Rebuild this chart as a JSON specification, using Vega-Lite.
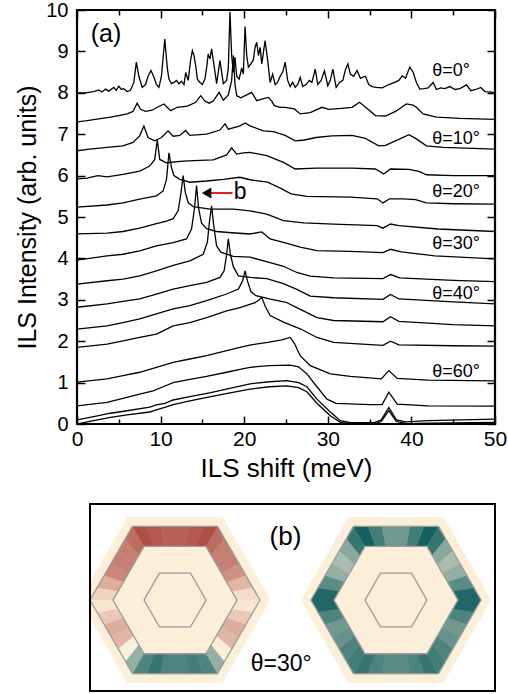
{
"$schema": "https://vega.github.io/schema/vega-lite/v6.json",
"padding": {"left": 14, "top": -2, "right": 5, "bottom": 2},
"spacing": 20,
"config": {"font": "Liberation Sans", "view": {"stroke": null},
  "axis": {"grid": false, "domain": false, "labelColor": "black", "tickColor": "black", "titleColor": "black", "labelFont": "Liberation Sans", "titleFont": "Liberation Sans", "titleFontWeight": "normal", "tickWidth": 1.5}},
"datasets": {
"curves": [
{"c":1,"x":0,"y":8.0},{"c":1,"x":1,"y":8.0},{"c":1,"x":2,"y":8.03},{"c":1,"x":2.6,"y":8.07},{"c":1,"x":3,"y":8.02},{"c":1,"x":3.4,"y":8.09},{"c":1,"x":3.8,"y":8.04},{"c":1,"x":4.4,"y":8.13},{"c":1,"x":4.7,"y":8.06},{"c":1,"x":5.0,"y":8.16},{"c":1,"x":5.3,"y":8.08},{"c":1,"x":5.6,"y":8.1},{"c":1,"x":6.0,"y":8.03},{"c":1,"x":6.4,"y":8.06},{"c":1,"x":6.8,"y":8.25},{"c":1,"x":7.1,"y":8.74},{"c":1,"x":7.4,"y":8.4},{"c":1,"x":7.8,"y":8.13},{"c":1,"x":8.2,"y":8.2},{"c":1,"x":8.5,"y":8.4},{"c":1,"x":8.85,"y":8.54},{"c":1,"x":9.2,"y":8.38},{"c":1,"x":9.5,"y":8.2},{"c":1,"x":9.8,"y":8.13},{"c":1,"x":10.1,"y":8.4},{"c":1,"x":10.5,"y":9.3},{"c":1,"x":10.8,"y":8.6},{"c":1,"x":11.0,"y":8.33},{"c":1,"x":11.3,"y":8.22},{"c":1,"x":11.6,"y":8.25},{"c":1,"x":11.9,"y":8.3},{"c":1,"x":12.2,"y":8.22},{"c":1,"x":12.5,"y":8.28},{"c":1,"x":12.8,"y":8.2},{"c":1,"x":13.0,"y":8.49},{"c":1,"x":13.3,"y":8.3},{"c":1,"x":13.6,"y":8.8},{"c":1,"x":13.8,"y":9.02},{"c":1,"x":14.0,"y":8.9},{"c":1,"x":14.2,"y":8.65},{"c":1,"x":14.4,"y":8.33},{"c":1,"x":14.7,"y":8.25},{"c":1,"x":15.0,"y":8.2},{"c":1,"x":15.3,"y":8.33},{"c":1,"x":15.5,"y":8.6},{"c":1,"x":15.7,"y":8.94},{"c":1,"x":15.9,"y":8.82},{"c":1,"x":16.1,"y":9.06},{"c":1,"x":16.4,"y":8.65},{"c":1,"x":16.7,"y":8.22},{"c":1,"x":16.9,"y":8.5},{"c":1,"x":17.1,"y":8.78},{"c":1,"x":17.3,"y":8.5},{"c":1,"x":17.5,"y":8.22},{"c":1,"x":17.9,"y":8.3},{"c":1,"x":18.1,"y":8.6},{"c":1,"x":18.3,"y":9.95},{"c":1,"x":18.5,"y":8.9},{"c":1,"x":18.7,"y":8.5},{"c":1,"x":18.9,"y":8.86},{"c":1,"x":19.1,"y":8.4},{"c":1,"x":19.4,"y":8.33},{"c":1,"x":19.7,"y":8.6},{"c":1,"x":19.9,"y":8.45},{"c":1,"x":20.1,"y":9.6},{"c":1,"x":20.3,"y":8.9},{"c":1,"x":20.5,"y":8.62},{"c":1,"x":20.8,"y":8.7},{"c":1,"x":21.1,"y":8.8},{"c":1,"x":21.3,"y":9.1},{"c":1,"x":21.5,"y":9.22},{"c":1,"x":21.7,"y":8.9},{"c":1,"x":21.9,"y":9.1},{"c":1,"x":22.1,"y":8.7},{"c":1,"x":22.5,"y":9.26},{"c":1,"x":22.8,"y":8.8},{"c":1,"x":23.1,"y":8.25},{"c":1,"x":23.4,"y":8.45},{"c":1,"x":23.7,"y":8.2},{"c":1,"x":24.0,"y":8.25},{"c":1,"x":24.3,"y":8.4},{"c":1,"x":24.6,"y":8.5},{"c":1,"x":24.9,"y":8.74},{"c":1,"x":25.2,"y":8.3},{"c":1,"x":25.5,"y":8.15},{"c":1,"x":25.8,"y":8.25},{"c":1,"x":26.1,"y":8.13},{"c":1,"x":26.4,"y":8.2},{"c":1,"x":26.7,"y":8.37},{"c":1,"x":27.0,"y":8.15},{"c":1,"x":27.4,"y":8.2},{"c":1,"x":27.8,"y":8.3},{"c":1,"x":28.1,"y":8.25},{"c":1,"x":28.5,"y":8.57},{"c":1,"x":28.8,"y":8.2},{"c":1,"x":29.2,"y":8.3},{"c":1,"x":29.6,"y":8.53},{"c":1,"x":30.0,"y":8.17},{"c":1,"x":30.3,"y":8.3},{"c":1,"x":30.6,"y":8.57},{"c":1,"x":31.0,"y":8.13},{"c":1,"x":31.4,"y":8.25},{"c":1,"x":31.8,"y":8.3},{"c":1,"x":32.1,"y":8.55},{"c":1,"x":32.4,"y":8.7},{"c":1,"x":32.7,"y":8.45},{"c":1,"x":33.1,"y":8.4},{"c":1,"x":33.5,"y":8.54},{"c":1,"x":33.9,"y":8.35},{"c":1,"x":34.2,"y":8.38},{"c":1,"x":34.5,"y":8.4},{"c":1,"x":34.9,"y":8.2},{"c":1,"x":35.3,"y":8.15},{"c":1,"x":35.8,"y":8.13},{"c":1,"x":36.5,"y":8.12},{"c":1,"x":37.3,"y":8.2},{"c":1,"x":38.0,"y":8.25},{"c":1,"x":38.5,"y":8.3},{"c":1,"x":38.9,"y":8.41},{"c":1,"x":39.3,"y":8.35},{"c":1,"x":39.8,"y":8.62},{"c":1,"x":40.2,"y":8.5},{"c":1,"x":40.6,"y":8.25},{"c":1,"x":41.0,"y":8.09},{"c":1,"x":41.5,"y":8.1},{"c":1,"x":42.0,"y":8.12},{"c":1,"x":42.6,"y":8.25},{"c":1,"x":43.0,"y":8.08},{"c":1,"x":43.5,"y":8.12},{"c":1,"x":44.0,"y":8.1},{"c":1,"x":44.6,"y":8.15},{"c":1,"x":45.2,"y":8.08},{"c":1,"x":45.8,"y":8.1},{"c":1,"x":46.6,"y":8.19},{"c":1,"x":47.1,"y":8.05},{"c":1,"x":47.7,"y":8.08},{"c":1,"x":48.3,"y":8.13},{"c":1,"x":48.8,"y":8.03},{"c":1,"x":49.4,"y":8.02},{"c":1,"x":50,"y":8.0},
{"c":2,"x":0,"y":7.3},{"c":2,"x":1,"y":7.32},{"c":2,"x":2,"y":7.35},{"c":2,"x":3,"y":7.38},{"c":2,"x":4,"y":7.41},{"c":2,"x":5,"y":7.45},{"c":2,"x":6,"y":7.49},{"c":2,"x":6.7,"y":7.55},{"c":2,"x":7.2,"y":7.75},{"c":2,"x":7.6,"y":7.6},{"c":2,"x":8.2,"y":7.55},{"c":2,"x":9.0,"y":7.58},{"c":2,"x":9.6,"y":7.65},{"c":2,"x":10.4,"y":7.73},{"c":2,"x":11.2,"y":7.57},{"c":2,"x":12,"y":7.65},{"c":2,"x":13.2,"y":7.68},{"c":2,"x":14.2,"y":7.77},{"c":2,"x":14.8,"y":7.93},{"c":2,"x":15.3,"y":7.8},{"c":2,"x":15.8,"y":7.75},{"c":2,"x":16.3,"y":7.8},{"c":2,"x":17.0,"y":8.01},{"c":2,"x":17.5,"y":7.82},{"c":2,"x":18.1,"y":7.95},{"c":2,"x":18.5,"y":8.3},{"c":2,"x":18.7,"y":8.9},{"c":2,"x":18.9,"y":8.2},{"c":2,"x":19.1,"y":7.93},{"c":2,"x":19.6,"y":7.88},{"c":2,"x":20.3,"y":7.95},{"c":2,"x":20.9,"y":8.01},{"c":2,"x":21.5,"y":7.81},{"c":2,"x":22.1,"y":7.85},{"c":2,"x":22.9,"y":7.89},{"c":2,"x":23.3,"y":7.8},{"c":2,"x":23.6,"y":7.69},{"c":2,"x":24.3,"y":7.65},{"c":2,"x":24.9,"y":7.65},{"c":2,"x":26.0,"y":7.61},{"c":2,"x":26.7,"y":7.49},{"c":2,"x":27.9,"y":7.52},{"c":2,"x":29.3,"y":7.65},{"c":2,"x":30.1,"y":7.6},{"c":2,"x":31.3,"y":7.62},{"c":2,"x":32.9,"y":7.65},{"c":2,"x":33.8,"y":7.77},{"c":2,"x":34.7,"y":7.62},{"c":2,"x":35.7,"y":7.45},{"c":2,"x":36.9,"y":7.44},{"c":2,"x":38.1,"y":7.55},{"c":2,"x":39.4,"y":7.73},{"c":2,"x":40.2,"y":7.7},{"c":2,"x":40.6,"y":7.65},{"c":2,"x":41.4,"y":7.49},{"c":2,"x":43,"y":7.41},{"c":2,"x":45.8,"y":7.38},{"c":2,"x":50,"y":7.36},
{"c":3,"x":0,"y":6.6},{"c":3,"x":1.5,"y":6.64},{"c":3,"x":3.6,"y":6.68},{"c":3,"x":5.5,"y":6.72},{"c":3,"x":6.7,"y":6.8},{"c":3,"x":7.5,"y":6.96},{"c":3,"x":8.0,"y":7.2},{"c":3,"x":8.5,"y":6.92},{"c":3,"x":9.3,"y":6.84},{"c":3,"x":10.1,"y":6.92},{"c":3,"x":10.9,"y":7.08},{"c":3,"x":11.5,"y":6.95},{"c":3,"x":12.3,"y":6.97},{"c":3,"x":13.0,"y":7.09},{"c":3,"x":13.5,"y":6.97},{"c":3,"x":15.5,"y":7.0},{"c":3,"x":17.1,"y":7.1},{"c":3,"x":17.7,"y":7.25},{"c":3,"x":18.1,"y":7.12},{"c":3,"x":19.5,"y":7.2},{"c":3,"x":20.1,"y":7.27},{"c":3,"x":20.7,"y":7.2},{"c":3,"x":22.3,"y":7.08},{"c":3,"x":23.5,"y":7.06},{"c":3,"x":24.9,"y":6.97},{"c":3,"x":26.1,"y":6.84},{"c":3,"x":27.2,"y":6.86},{"c":3,"x":28.6,"y":6.92},{"c":3,"x":30.5,"y":6.96},{"c":3,"x":32.9,"y":6.97},{"c":3,"x":34.5,"y":6.9},{"c":3,"x":36.1,"y":6.72},{"c":3,"x":36.9,"y":6.73},{"c":3,"x":38.1,"y":6.84},{"c":3,"x":39.7,"y":6.99},{"c":3,"x":40.5,"y":6.9},{"c":3,"x":41.8,"y":6.72},{"c":3,"x":43.8,"y":6.68},{"c":3,"x":50,"y":6.64},
{"c":4,"x":0,"y":5.92},{"c":4,"x":1.2,"y":5.94},{"c":4,"x":2.5,"y":6.0},{"c":4,"x":3.6,"y":5.97},{"c":4,"x":5.5,"y":6.03},{"c":4,"x":7.5,"y":6.11},{"c":4,"x":8.7,"y":6.23},{"c":4,"x":9.3,"y":6.39},{"c":4,"x":9.6,"y":6.86},{"c":4,"x":9.9,"y":6.39},{"c":4,"x":10.7,"y":6.31},{"c":4,"x":12.7,"y":6.35},{"c":4,"x":14.7,"y":6.37},{"c":4,"x":16.3,"y":6.38},{"c":4,"x":17.9,"y":6.5},{"c":4,"x":18.5,"y":6.67},{"c":4,"x":19.1,"y":6.52},{"c":4,"x":19.9,"y":6.55},{"c":4,"x":20.7,"y":6.56},{"c":4,"x":22.7,"y":6.48},{"c":4,"x":24.7,"y":6.32},{"c":4,"x":26.1,"y":6.16},{"c":4,"x":28.6,"y":6.18},{"c":4,"x":32.9,"y":6.18},{"c":4,"x":35.7,"y":6.16},{"c":4,"x":36.7,"y":6.04},{"c":4,"x":37.5,"y":6.16},{"c":4,"x":39.7,"y":6.15},{"c":4,"x":40.9,"y":6.1},{"c":4,"x":41.8,"y":6.02},{"c":4,"x":45,"y":6.0},{"c":4,"x":50,"y":6.0},
{"c":5,"x":0,"y":5.24},{"c":5,"x":3.6,"y":5.29},{"c":5,"x":5.5,"y":5.34},{"c":5,"x":7.5,"y":5.43},{"c":5,"x":9.5,"y":5.51},{"c":5,"x":10.3,"y":5.63},{"c":5,"x":10.7,"y":5.9},{"c":5,"x":11.0,"y":6.55},{"c":5,"x":11.3,"y":6.2},{"c":5,"x":11.6,"y":6.0},{"c":5,"x":12.3,"y":5.91},{"c":5,"x":13.5,"y":5.84},{"c":5,"x":15.5,"y":5.87},{"c":5,"x":17.5,"y":5.91},{"c":5,"x":19.5,"y":5.96},{"c":5,"x":20.7,"y":5.9},{"c":5,"x":22.8,"y":5.84},{"c":5,"x":24.5,"y":5.68},{"c":5,"x":25.6,"y":5.56},{"c":5,"x":27.5,"y":5.5},{"c":5,"x":32.7,"y":5.48},{"c":5,"x":35.9,"y":5.44},{"c":5,"x":36.6,"y":5.34},{"c":5,"x":37.4,"y":5.44},{"c":5,"x":39,"y":5.44},{"c":5,"x":40.5,"y":5.42},{"c":5,"x":41.8,"y":5.34},{"c":5,"x":45,"y":5.32},{"c":5,"x":50,"y":5.31},
{"c":6,"x":0,"y":4.59},{"c":6,"x":3.6,"y":4.61},{"c":6,"x":5.5,"y":4.65},{"c":6,"x":7.5,"y":4.73},{"c":6,"x":9.5,"y":4.84},{"c":6,"x":10.7,"y":4.9},{"c":6,"x":11.5,"y":4.96},{"c":6,"x":12.1,"y":5.15},{"c":6,"x":12.45,"y":5.6},{"c":6,"x":12.7,"y":6.0},{"c":6,"x":12.95,"y":5.6},{"c":6,"x":13.3,"y":5.35},{"c":6,"x":13.9,"y":5.25},{"c":6,"x":15.9,"y":5.19},{"c":6,"x":18.7,"y":5.19},{"c":6,"x":20.7,"y":5.15},{"c":6,"x":22.7,"y":5.07},{"c":6,"x":24.7,"y":4.91},{"c":6,"x":27.1,"y":4.86},{"c":6,"x":30.7,"y":4.83},{"c":6,"x":35.9,"y":4.79},{"c":6,"x":36.6,"y":4.73},{"c":6,"x":37.5,"y":4.83},{"c":6,"x":38.5,"y":4.79},{"c":6,"x":43.2,"y":4.71},{"c":6,"x":50,"y":4.65},
{"c":7,"x":0,"y":3.96},{"c":7,"x":3.6,"y":4.06},{"c":7,"x":5.5,"y":4.1},{"c":7,"x":7.5,"y":4.18},{"c":7,"x":9.5,"y":4.3},{"c":7,"x":11.5,"y":4.38},{"c":7,"x":13.1,"y":4.47},{"c":7,"x":13.7,"y":4.71},{"c":7,"x":14.05,"y":5.2},{"c":7,"x":14.3,"y":5.76},{"c":7,"x":14.55,"y":5.2},{"c":7,"x":14.9,"y":4.85},{"c":7,"x":15.5,"y":4.72},{"c":7,"x":16.7,"y":4.65},{"c":7,"x":18.5,"y":4.62},{"c":7,"x":20.7,"y":4.59},{"c":7,"x":22.1,"y":4.64},{"c":7,"x":23.1,"y":4.47},{"c":7,"x":24.7,"y":4.39},{"c":7,"x":26.7,"y":4.27},{"c":7,"x":28.7,"y":4.19},{"c":7,"x":32.7,"y":4.17},{"c":7,"x":36.6,"y":4.14},{"c":7,"x":37.5,"y":4.22},{"c":7,"x":38.8,"y":4.16},{"c":7,"x":42.8,"y":4.06},{"c":7,"x":50,"y":3.99},
{"c":8,"x":0,"y":3.38},{"c":8,"x":3.6,"y":3.46},{"c":8,"x":5.5,"y":3.5},{"c":8,"x":7.5,"y":3.58},{"c":8,"x":9.5,"y":3.7},{"c":8,"x":11.5,"y":3.83},{"c":8,"x":13.5,"y":3.94},{"c":8,"x":15.1,"y":4.1},{"c":8,"x":15.6,"y":4.4},{"c":8,"x":15.85,"y":4.9},{"c":8,"x":16.1,"y":5.27},{"c":8,"x":16.35,"y":4.8},{"c":8,"x":16.7,"y":4.3},{"c":8,"x":17.2,"y":4.15},{"c":8,"x":18.7,"y":4.05},{"c":8,"x":20.7,"y":4.03},{"c":8,"x":23.1,"y":3.9},{"c":8,"x":24.7,"y":3.81},{"c":8,"x":26.3,"y":3.66},{"c":8,"x":27.9,"y":3.57},{"c":8,"x":30.7,"y":3.53},{"c":8,"x":36.6,"y":3.51},{"c":8,"x":37.5,"y":3.61},{"c":8,"x":38.6,"y":3.53},{"c":8,"x":45,"y":3.47},{"c":8,"x":50,"y":3.44},
{"c":9,"x":0,"y":2.82},{"c":9,"x":3.6,"y":2.9},{"c":9,"x":5.5,"y":2.96},{"c":9,"x":7.5,"y":3.02},{"c":9,"x":9.5,"y":3.14},{"c":9,"x":11.5,"y":3.26},{"c":9,"x":13.5,"y":3.34},{"c":9,"x":15.5,"y":3.42},{"c":9,"x":17.1,"y":3.54},{"c":9,"x":17.6,"y":3.7},{"c":9,"x":17.9,"y":4.1},{"c":9,"x":18.1,"y":4.47},{"c":9,"x":18.35,"y":4.1},{"c":9,"x":18.7,"y":3.8},{"c":9,"x":19.3,"y":3.58},{"c":9,"x":20.7,"y":3.54},{"c":9,"x":22.7,"y":3.51},{"c":9,"x":24.7,"y":3.39},{"c":9,"x":26.3,"y":3.25},{"c":9,"x":27.9,"y":3.09},{"c":9,"x":30.7,"y":3.05},{"c":9,"x":36.6,"y":3.01},{"c":9,"x":37.5,"y":3.13},{"c":9,"x":38.5,"y":3.02},{"c":9,"x":45,"y":2.95},{"c":9,"x":50,"y":2.9},
{"c":10,"x":0,"y":2.29},{"c":10,"x":3.6,"y":2.37},{"c":10,"x":5.5,"y":2.45},{"c":10,"x":7.5,"y":2.54},{"c":10,"x":9.5,"y":2.66},{"c":10,"x":11.5,"y":2.78},{"c":10,"x":13.5,"y":2.86},{"c":10,"x":15.5,"y":2.98},{"c":10,"x":17.9,"y":3.14},{"c":10,"x":19.3,"y":3.26},{"c":10,"x":19.8,"y":3.45},{"c":10,"x":20.1,"y":3.7},{"c":10,"x":20.4,"y":3.45},{"c":10,"x":20.8,"y":3.2},{"c":10,"x":21.4,"y":3.1},{"c":10,"x":23,"y":3.02},{"c":10,"x":25,"y":2.94},{"c":10,"x":26.6,"y":2.78},{"c":10,"x":28.7,"y":2.57},{"c":10,"x":30.7,"y":2.5},{"c":10,"x":36.6,"y":2.47},{"c":10,"x":37.5,"y":2.59},{"c":10,"x":38.5,"y":2.48},{"c":10,"x":45,"y":2.4},{"c":10,"x":50,"y":2.37},
{"c":11,"x":0,"y":1.85},{"c":11,"x":3.6,"y":1.93},{"c":11,"x":5.5,"y":2.01},{"c":11,"x":7.5,"y":2.09},{"c":11,"x":9.5,"y":2.17},{"c":11,"x":10.3,"y":2.25},{"c":11,"x":11.5,"y":2.37},{"c":11,"x":13.5,"y":2.45},{"c":11,"x":15.5,"y":2.57},{"c":11,"x":17.9,"y":2.73},{"c":11,"x":19.5,"y":2.81},{"c":11,"x":21.3,"y":2.93},{"c":11,"x":21.8,"y":3.0},{"c":11,"x":22.1,"y":3.06},{"c":11,"x":22.5,"y":2.85},{"c":11,"x":23.1,"y":2.62},{"c":11,"x":24.7,"y":2.46},{"c":11,"x":26.7,"y":2.3},{"c":11,"x":28.7,"y":2.09},{"c":11,"x":30.7,"y":1.97},{"c":11,"x":36.6,"y":1.9},{"c":11,"x":37.5,"y":2.0},{"c":11,"x":38.5,"y":1.91},{"c":11,"x":45,"y":1.89},{"c":11,"x":50,"y":1.88},
{"c":12,"x":0,"y":1.01},{"c":12,"x":3.6,"y":1.09},{"c":12,"x":5.5,"y":1.17},{"c":12,"x":7.5,"y":1.25},{"c":12,"x":9.5,"y":1.37},{"c":12,"x":11.5,"y":1.49},{"c":12,"x":13.5,"y":1.57},{"c":12,"x":15.5,"y":1.65},{"c":12,"x":17.9,"y":1.77},{"c":12,"x":19.5,"y":1.85},{"c":12,"x":20.8,"y":1.91},{"c":12,"x":22.8,"y":1.97},{"c":12,"x":24.5,"y":2.03},{"c":12,"x":25.5,"y":2.09},{"c":12,"x":26.0,"y":1.95},{"c":12,"x":26.7,"y":1.65},{"c":12,"x":27.9,"y":1.41},{"c":12,"x":30.3,"y":1.21},{"c":12,"x":32.7,"y":1.15},{"c":12,"x":36.4,"y":1.09},{"c":12,"x":37.3,"y":1.29},{"c":12,"x":38.3,"y":1.1},{"c":12,"x":42,"y":1.06},{"c":12,"x":50,"y":1.04},
{"c":13,"x":0,"y":0.44},{"c":13,"x":3.6,"y":0.52},{"c":13,"x":5.5,"y":0.62},{"c":13,"x":7.5,"y":0.72},{"c":13,"x":9.1,"y":0.8},{"c":13,"x":10.3,"y":0.9},{"c":13,"x":11.5,"y":1.0},{"c":13,"x":13.5,"y":1.08},{"c":13,"x":15.5,"y":1.15},{"c":13,"x":17.9,"y":1.25},{"c":13,"x":19.5,"y":1.32},{"c":13,"x":20.7,"y":1.37},{"c":13,"x":23,"y":1.41},{"c":13,"x":25.5,"y":1.42},{"c":13,"x":26.5,"y":1.38},{"c":13,"x":27.5,"y":1.21},{"c":13,"x":28.7,"y":0.9},{"c":13,"x":29.9,"y":0.6},{"c":13,"x":31,"y":0.5},{"c":13,"x":35,"y":0.47},{"c":13,"x":36.5,"y":0.47},{"c":13,"x":37.3,"y":0.77},{"c":13,"x":38.3,"y":0.48},{"c":13,"x":42,"y":0.44},{"c":13,"x":50,"y":0.43},
{"c":14,"x":0,"y":0.1},{"c":14,"x":2,"y":0.18},{"c":14,"x":4,"y":0.26},{"c":14,"x":6,"y":0.32},{"c":14,"x":8.7,"y":0.41},{"c":14,"x":9.5,"y":0.46},{"c":14,"x":10.5,"y":0.5},{"c":14,"x":11.5,"y":0.58},{"c":14,"x":13.5,"y":0.66},{"c":14,"x":16,"y":0.76},{"c":14,"x":18,"y":0.85},{"c":14,"x":20.7,"y":0.97},{"c":14,"x":23,"y":1.02},{"c":14,"x":25.1,"y":1.05},{"c":14,"x":26.5,"y":1.0},{"c":14,"x":27.5,"y":0.9},{"c":14,"x":28.7,"y":0.6},{"c":14,"x":30.3,"y":0.29},{"c":14,"x":31.5,"y":0.08},{"c":14,"x":32.7,"y":0.03},{"c":14,"x":35.5,"y":0.03},{"c":14,"x":36.4,"y":0.1},{"c":14,"x":37.3,"y":0.4},{"c":14,"x":38.2,"y":0.1},{"c":14,"x":39.3,"y":0.05},{"c":14,"x":42,"y":0.08},{"c":14,"x":50,"y":0.12},
{"c":15,"x":0,"y":0.0},{"c":15,"x":2,"y":0.08},{"c":15,"x":4,"y":0.16},{"c":15,"x":6,"y":0.22},{"c":15,"x":8.7,"y":0.29},{"c":15,"x":9.5,"y":0.34},{"c":15,"x":10.5,"y":0.4},{"c":15,"x":11.5,"y":0.47},{"c":15,"x":13.5,"y":0.56},{"c":15,"x":16,"y":0.66},{"c":15,"x":18,"y":0.74},{"c":15,"x":20.7,"y":0.84},{"c":15,"x":23,"y":0.9},{"c":15,"x":25.1,"y":0.92},{"c":15,"x":26.5,"y":0.88},{"c":15,"x":27.5,"y":0.78},{"c":15,"x":28.7,"y":0.5},{"c":15,"x":30.3,"y":0.2},{"c":15,"x":31.5,"y":0.04},{"c":15,"x":32.7,"y":0.0},{"c":15,"x":35.5,"y":0.0},{"c":15,"x":36.4,"y":0.06},{"c":15,"x":37.3,"y":0.32},{"c":15,"x":38.2,"y":0.06},{"c":15,"x":39.5,"y":0.01},{"c":15,"x":42,"y":0.02},{"c":15,"x":50,"y":0.04}
],
"thetas": [
{"t":"θ=0°","x":42.5,"y":8.53},{"t":"θ=10°","x":42.5,"y":6.88},{"t":"θ=20°","x":42.5,"y":5.6},{"t":"θ=30°","x":42.5,"y":4.35},{"t":"θ=40°","x":42.5,"y":3.14},{"t":"θ=60°","x":42.5,"y":1.26}
],
"quads": [
{"q":"L00","v":0.1,"xs":[-0.3,-0.383,-0.631,-0.57],"ys":[0,0.144,0.105,0],"os":[0,1,2,3]},
{"q":"L01","v":0.3,"xs":[-0.383,-0.467,-0.692,-0.631],"ys":[0.144,0.289,0.211,0.105],"os":[0,1,2,3]},
{"q":"L02","v":0.5,"xs":[-0.467,-0.55,-0.752,-0.692],"ys":[0.289,0.433,0.316,0.211],"os":[0,1,2,3]},
{"q":"L03","v":0.6,"xs":[-0.55,-0.633,-0.813,-0.752],"ys":[0.433,0.577,0.421,0.316],"os":[0,1,2,3]},
{"q":"L04","v":0.6,"xs":[-0.633,-0.717,-0.874,-0.813],"ys":[0.577,0.722,0.527,0.421],"os":[0,1,2,3]},
{"q":"L05","v":0.7,"xs":[-0.717,-0.8,-0.935,-0.874],"ys":[0.722,0.866,0.632,0.527],"os":[0,1,2,3]},
{"q":"L10","v":0.85,"xs":[-0.8,-0.967,-1.057,-0.935],"ys":[0.866,0.866,0.632,0.632],"os":[0,1,2,3]},
{"q":"L11","v":0.8,"xs":[-0.967,-1.133,-1.178,-1.057],"ys":[0.866,0.866,0.632,0.632],"os":[0,1,2,3]},
{"q":"L12","v":0.75,"xs":[-1.133,-1.3,-1.3,-1.178],"ys":[0.866,0.866,0.632,0.632],"os":[0,1,2,3]},
{"q":"L13","v":0.75,"xs":[-1.3,-1.467,-1.422,-1.3],"ys":[0.866,0.866,0.632,0.632],"os":[0,1,2,3]},
{"q":"L14","v":0.8,"xs":[-1.467,-1.633,-1.543,-1.422],"ys":[0.866,0.866,0.632,0.632],"os":[0,1,2,3]},
{"q":"L15","v":0.85,"xs":[-1.633,-1.8,-1.665,-1.543],"ys":[0.866,0.866,0.632,0.632],"os":[0,1,2,3]},
{"q":"L20","v":0.7,"xs":[-1.8,-1.883,-1.726,-1.665],"ys":[0.866,0.722,0.527,0.632],"os":[0,1,2,3]},
{"q":"L21","v":0.6,"xs":[-1.883,-1.967,-1.787,-1.726],"ys":[0.722,0.577,0.421,0.527],"os":[0,1,2,3]},
{"q":"L22","v":0.6,"xs":[-1.967,-2.05,-1.848,-1.787],"ys":[0.577,0.433,0.316,0.421],"os":[0,1,2,3]},
{"q":"L23","v":0.55,"xs":[-2.05,-2.133,-1.908,-1.848],"ys":[0.433,0.289,0.211,0.316],"os":[0,1,2,3]},
{"q":"L24","v":0.35,"xs":[-2.133,-2.217,-1.969,-1.908],"ys":[0.289,0.144,0.105,0.211],"os":[0,1,2,3]},
{"q":"L25","v":0.15,"xs":[-2.217,-2.3,-2.03,-1.969],"ys":[0.144,0,0,0.105],"os":[0,1,2,3]},
{"q":"L30","v":0.05,"xs":[-2.3,-2.217,-1.969,-2.03],"ys":[0,-0.144,-0.105,0],"os":[0,1,2,3]},
{"q":"L31","v":0.2,"xs":[-2.217,-2.133,-1.908,-1.969],"ys":[-0.144,-0.289,-0.211,-0.105],"os":[0,1,2,3]},
{"q":"L32","v":0.35,"xs":[-2.133,-2.05,-1.848,-1.908],"ys":[-0.289,-0.433,-0.316,-0.211],"os":[0,1,2,3]},
{"q":"L33","v":0.3,"xs":[-2.05,-1.967,-1.787,-1.848],"ys":[-0.433,-0.577,-0.421,-0.316],"os":[0,1,2,3]},
{"q":"L34","v":0.0,"xs":[-1.967,-1.883,-1.726,-1.787],"ys":[-0.577,-0.722,-0.527,-0.421],"os":[0,1,2,3]},
{"q":"L35","v":-0.45,"xs":[-1.883,-1.8,-1.665,-1.726],"ys":[-0.722,-0.866,-0.632,-0.527],"os":[0,1,2,3]},
{"q":"L40","v":-0.75,"xs":[-1.8,-1.633,-1.543,-1.665],"ys":[-0.866,-0.866,-0.632,-0.632],"os":[0,1,2,3]},
{"q":"L41","v":-0.85,"xs":[-1.633,-1.467,-1.422,-1.543],"ys":[-0.866,-0.866,-0.632,-0.632],"os":[0,1,2,3]},
{"q":"L42","v":-0.75,"xs":[-1.467,-1.3,-1.3,-1.422],"ys":[-0.866,-0.866,-0.632,-0.632],"os":[0,1,2,3]},
{"q":"L43","v":-0.75,"xs":[-1.3,-1.133,-1.178,-1.3],"ys":[-0.866,-0.866,-0.632,-0.632],"os":[0,1,2,3]},
{"q":"L44","v":-0.8,"xs":[-1.133,-0.967,-1.057,-1.178],"ys":[-0.866,-0.866,-0.632,-0.632],"os":[0,1,2,3]},
{"q":"L45","v":-0.75,"xs":[-0.967,-0.8,-0.935,-1.057],"ys":[-0.866,-0.866,-0.632,-0.632],"os":[0,1,2,3]},
{"q":"L50","v":-0.45,"xs":[-0.8,-0.717,-0.874,-0.935],"ys":[-0.866,-0.722,-0.527,-0.632],"os":[0,1,2,3]},
{"q":"L51","v":0.0,"xs":[-0.717,-0.633,-0.813,-0.874],"ys":[-0.722,-0.577,-0.421,-0.527],"os":[0,1,2,3]},
{"q":"L52","v":0.3,"xs":[-0.633,-0.55,-0.752,-0.813],"ys":[-0.577,-0.433,-0.316,-0.421],"os":[0,1,2,3]},
{"q":"L53","v":0.35,"xs":[-0.55,-0.467,-0.692,-0.752],"ys":[-0.433,-0.289,-0.211,-0.316],"os":[0,1,2,3]},
{"q":"L54","v":0.2,"xs":[-0.467,-0.383,-0.631,-0.692],"ys":[-0.289,-0.144,-0.105,-0.211],"os":[0,1,2,3]},
{"q":"L55","v":0.05,"xs":[-0.383,-0.3,-0.57,-0.631],"ys":[-0.144,0,0,-0.105],"os":[0,1,2,3]},
{"q":"R00","v":-0.95,"xs":[0.3,0.383,0.631,0.57],"ys":[0,0.144,0.105,0],"os":[0,1,2,3]},
{"q":"R01","v":-0.7,"xs":[0.383,0.467,0.692,0.631],"ys":[0.144,0.289,0.211,0.105],"os":[0,1,2,3]},
{"q":"R02","v":-0.45,"xs":[0.467,0.55,0.752,0.692],"ys":[0.289,0.433,0.316,0.211],"os":[0,1,2,3]},
{"q":"R03","v":-0.35,"xs":[0.55,0.633,0.813,0.752],"ys":[0.433,0.577,0.421,0.316],"os":[0,1,2,3]},
{"q":"R04","v":-0.5,"xs":[0.633,0.717,0.874,0.813],"ys":[0.577,0.722,0.527,0.421],"os":[0,1,2,3]},
{"q":"R05","v":-0.85,"xs":[0.717,0.8,0.935,0.874],"ys":[0.722,0.866,0.632,0.527],"os":[0,1,2,3]},
{"q":"R10","v":-1.0,"xs":[0.8,0.967,1.057,0.935],"ys":[0.866,0.866,0.632,0.632],"os":[0,1,2,3]},
{"q":"R11","v":-0.8,"xs":[0.967,1.133,1.178,1.057],"ys":[0.866,0.866,0.632,0.632],"os":[0,1,2,3]},
{"q":"R12","v":-0.6,"xs":[1.133,1.3,1.3,1.178],"ys":[0.866,0.866,0.632,0.632],"os":[0,1,2,3]},
{"q":"R13","v":-0.6,"xs":[1.3,1.467,1.422,1.3],"ys":[0.866,0.866,0.632,0.632],"os":[0,1,2,3]},
{"q":"R14","v":-0.8,"xs":[1.467,1.633,1.543,1.422],"ys":[0.866,0.866,0.632,0.632],"os":[0,1,2,3]},
{"q":"R15","v":-1.0,"xs":[1.633,1.8,1.665,1.543],"ys":[0.866,0.866,0.632,0.632],"os":[0,1,2,3]},
{"q":"R20","v":-0.85,"xs":[1.8,1.883,1.726,1.665],"ys":[0.866,0.722,0.527,0.632],"os":[0,1,2,3]},
{"q":"R21","v":-0.5,"xs":[1.883,1.967,1.787,1.726],"ys":[0.722,0.577,0.421,0.527],"os":[0,1,2,3]},
{"q":"R22","v":-0.35,"xs":[1.967,2.05,1.848,1.787],"ys":[0.577,0.433,0.316,0.421],"os":[0,1,2,3]},
{"q":"R23","v":-0.45,"xs":[2.05,2.133,1.908,1.848],"ys":[0.433,0.289,0.211,0.316],"os":[0,1,2,3]},
{"q":"R24","v":-0.7,"xs":[2.133,2.217,1.969,1.908],"ys":[0.289,0.144,0.105,0.211],"os":[0,1,2,3]},
{"q":"R25","v":-0.95,"xs":[2.217,2.3,2.03,1.969],"ys":[0.144,0,0,0.105],"os":[0,1,2,3]},
{"q":"R30","v":-0.95,"xs":[2.3,2.217,1.969,2.03],"ys":[0,-0.144,-0.105,0],"os":[0,1,2,3]},
{"q":"R31","v":-0.75,"xs":[2.217,2.133,1.908,1.969],"ys":[-0.144,-0.289,-0.211,-0.105],"os":[0,1,2,3]},
{"q":"R32","v":-0.6,"xs":[2.133,2.05,1.848,1.908],"ys":[-0.289,-0.433,-0.316,-0.211],"os":[0,1,2,3]},
{"q":"R33","v":-0.65,"xs":[2.05,1.967,1.787,1.848],"ys":[-0.433,-0.577,-0.421,-0.316],"os":[0,1,2,3]},
{"q":"R34","v":-0.75,"xs":[1.967,1.883,1.726,1.787],"ys":[-0.577,-0.722,-0.527,-0.421],"os":[0,1,2,3]},
{"q":"R35","v":-0.8,"xs":[1.883,1.8,1.665,1.726],"ys":[-0.722,-0.866,-0.632,-0.527],"os":[0,1,2,3]},
{"q":"R40","v":-0.85,"xs":[1.8,1.633,1.543,1.665],"ys":[-0.866,-0.866,-0.632,-0.632],"os":[0,1,2,3]},
{"q":"R41","v":-0.75,"xs":[1.633,1.467,1.422,1.543],"ys":[-0.866,-0.866,-0.632,-0.632],"os":[0,1,2,3]},
{"q":"R42","v":-0.7,"xs":[1.467,1.3,1.3,1.422],"ys":[-0.866,-0.866,-0.632,-0.632],"os":[0,1,2,3]},
{"q":"R43","v":-0.7,"xs":[1.3,1.133,1.178,1.3],"ys":[-0.866,-0.866,-0.632,-0.632],"os":[0,1,2,3]},
{"q":"R44","v":-0.75,"xs":[1.133,0.967,1.057,1.178],"ys":[-0.866,-0.866,-0.632,-0.632],"os":[0,1,2,3]},
{"q":"R45","v":-0.85,"xs":[0.967,0.8,0.935,1.057],"ys":[-0.866,-0.866,-0.632,-0.632],"os":[0,1,2,3]},
{"q":"R50","v":-0.8,"xs":[0.8,0.717,0.874,0.935],"ys":[-0.866,-0.722,-0.527,-0.632],"os":[0,1,2,3]},
{"q":"R51","v":-0.75,"xs":[0.717,0.633,0.813,0.874],"ys":[-0.722,-0.577,-0.421,-0.527],"os":[0,1,2,3]},
{"q":"R52","v":-0.65,"xs":[0.633,0.55,0.752,0.813],"ys":[-0.577,-0.433,-0.316,-0.421],"os":[0,1,2,3]},
{"q":"R53","v":-0.6,"xs":[0.55,0.467,0.692,0.752],"ys":[-0.433,-0.289,-0.211,-0.316],"os":[0,1,2,3]},
{"q":"R54","v":-0.75,"xs":[0.467,0.383,0.631,0.692],"ys":[-0.289,-0.144,-0.105,-0.211],"os":[0,1,2,3]},
{"q":"R55","v":-0.95,"xs":[0.383,0.3,0.57,0.631],"ys":[-0.144,0,0,-0.105],"os":[0,1,2,3]}
],
"outlines": [
{"g":"L1","xs":[-0.3,-0.8,-1.8,-2.3,-1.8,-0.8,-0.3],"ys":[0,0.866,0.866,0,-0.866,-0.866,0],"os":[0,1,2,3,4,5,6]},
{"g":"L2","xs":[-0.57,-0.935,-1.665,-2.03,-1.665,-0.935,-0.57],"ys":[0,0.632,0.632,0,-0.632,-0.632,0],"os":[0,1,2,3,4,5,6]},
{"g":"L3","xs":[-0.935,-1.1175,-1.4825,-1.665,-1.4825,-1.1175,-0.935],"ys":[0,0.316,0.316,0,-0.316,-0.316,0],"os":[0,1,2,3,4,5,6]},
{"g":"R1","xs":[0.3,0.8,1.8,2.3,1.8,0.8,0.3],"ys":[0,0.866,0.866,0,-0.866,-0.866,0],"os":[0,1,2,3,4,5,6]},
{"g":"R2","xs":[0.57,0.935,1.665,2.03,1.665,0.935,0.57],"ys":[0,0.632,0.632,0,-0.632,-0.632,0],"os":[0,1,2,3,4,5,6]},
{"g":"R3","xs":[0.935,1.1175,1.4825,1.665,1.4825,1.1175,0.935],"ys":[0,0.316,0.316,0,-0.316,-0.316,0],"os":[0,1,2,3,4,5,6]}
],
"beige": [
{"g":"BL","xs":[-0.18,-0.74,-1.86,-2.3,-2.3,-1.86,-0.74],"ys":[0,0.97,0.97,0.208,-0.208,-0.97,-0.97],"os":[0,1,2,3,4,5,6]},
{"g":"BR","xs":[2.42,1.86,0.74,0.18,0.74,1.86],"ys":[0,0.97,0.97,0,-0.97,-0.97],"os":[0,1,2,3,4,5]}
]
},
"vconcat": [
{
"width": 418, "height": 414,
"view": {"stroke": "black", "strokeWidth": 2.2},
"resolve": {"axis": {"x": "independent", "y": "independent"}},
"layer": [
{
"data": {"name": "curves"},
"mark": {"type": "line", "stroke": "black", "strokeWidth": 1.3, "clip": true},
"encoding": {
"x": {"field": "x", "type": "quantitative", "scale": {"domain": [0, 50], "nice": false, "zero": false},
  "axis": {"orient": "bottom", "values": [0, 10, 20, 30, 40, 50], "tickSize": -8, "labelFontSize": 21, "labelPadding": 12, "labelFlush": false, "title": "ILS shift (meV)", "titleFontSize": 26, "titlePadding": 6}},
"y": {"field": "y", "type": "quantitative", "scale": {"domain": [0, 10], "nice": false, "zero": false},
  "axis": {"orient": "left", "values": [0,1,2,3,4,5,6,7,8,9,10], "tickSize": -8, "labelFontSize": 20, "labelPadding": 17, "labelFlush": false, "title": "ILS Intensity (arb. units)", "titleFontSize": 25, "titlePadding": 5}},
"detail": {"field": "c", "type": "nominal"}
}
},
{
"data": {"name": "thetas"},
"mark": {"type": "text", "align": "left", "baseline": "middle", "fontSize": 18, "color": "black"},
"encoding": {
"x": {"field": "x", "type": "quantitative", "scale": {"domain": [0, 50], "nice": false, "zero": false},
  "axis": {"orient": "top", "values": [0, 10, 20, 30, 40, 50], "tickSize": -8, "labels": false, "title": null}},
"y": {"field": "y", "type": "quantitative", "scale": {"domain": [0, 10], "nice": false, "zero": false},
  "axis": {"orient": "right", "values": [0,1,2,3,4,5,6,7,8,9,10], "tickSize": -8, "labels": false, "title": null}},
"text": {"field": "t"}
}
},
{
"data": {"values": [{"t": "(a)", "x": 3.47, "y": 9.42}]},
"mark": {"type": "text", "align": "center", "baseline": "middle", "fontSize": 25, "color": "black"},
"encoding": {
"x": {"field": "x", "type": "quantitative", "scale": {"domain": [0, 50], "nice": false, "zero": false},
  "axis": {"orient": "bottom", "values": [5, 15, 25, 35, 45], "tickSize": -5, "labels": false, "title": null}},
"y": {"field": "y", "type": "quantitative", "scale": {"domain": [0, 10], "nice": false, "zero": false}, "axis": null},
"text": {"field": "t"}
}
},
{
"data": {"values": [{"t": "b", "x": 19.5, "y": 5.6}]},
"mark": {"type": "text", "align": "center", "baseline": "middle", "fontSize": 23, "color": "black"},
"encoding": {
"x": {"field": "x", "type": "quantitative", "scale": {"domain": [0, 50], "nice": false, "zero": false},
  "axis": {"orient": "top", "values": [5, 15, 25, 35, 45], "tickSize": -5, "labels": false, "title": null}},
"y": {"field": "y", "type": "quantitative", "scale": {"domain": [0, 10], "nice": false, "zero": false}, "axis": null},
"text": {"field": "t"}
}
},
{
"data": {"values": [{"x": 16.0, "x2": 18.6, "y": 5.58}]},
"mark": {"type": "rule", "color": "#e3201b", "strokeWidth": 2},
"encoding": {
"x": {"field": "x", "type": "quantitative", "scale": {"domain": [0, 50], "nice": false, "zero": false}, "axis": null},
"x2": {"field": "x2"},
"y": {"field": "y", "type": "quantitative", "scale": {"domain": [0, 10], "nice": false, "zero": false}, "axis": null}
}
},
{
"data": {"values": [{"x": 15.5, "y": 5.58}]},
"mark": {"type": "point", "shape": "triangle-left", "filled": true, "color": "black", "size": 120, "opacity": 1},
"encoding": {
"x": {"field": "x", "type": "quantitative", "scale": {"domain": [0, 50], "nice": false, "zero": false}, "axis": null},
"y": {"field": "y", "type": "quantitative", "scale": {"domain": [0, 10], "nice": false, "zero": false}, "axis": null}
}
}
]
},
{
"width": 418, "height": 187,
"view": {"stroke": null},
"layer": [
{
"data": {"name": "beige"},
"transform": [{"flatten": ["xs", "ys", "os"], "as": ["x", "y", "o"]}],
"mark": {"type": "line", "fill": "#fcefda", "stroke": "#fcefda", "strokeWidth": 0.5},
"encoding": {
"x": {"field": "x", "type": "quantitative", "scale": {"domain": [-2.453, 2.465], "nice": false, "zero": false}, "axis": null},
"y": {"field": "y", "type": "quantitative", "scale": {"domain": [-1.07, 1.13], "nice": false, "zero": false}, "axis": null},
"detail": {"field": "g", "type": "nominal"},
"order": {"field": "o", "type": "quantitative"}
}
},
{
"data": {"name": "quads"},
"transform": [{"flatten": ["xs", "ys", "os"], "as": ["x", "y", "o"]}],
"mark": {"type": "line", "strokeWidth": 0.8},
"encoding": {
"x": {"field": "x", "type": "quantitative", "scale": {"domain": [-2.453, 2.465], "nice": false, "zero": false}, "axis": null},
"y": {"field": "y", "type": "quantitative", "scale": {"domain": [-1.07, 1.13], "nice": false, "zero": false}, "axis": null},
"fill": {"field": "v", "type": "quantitative", "scale": {"domain": [-1, 0, 1], "range": ["#14605f", "#fcefda", "#a3322c"], "interpolate": "rgb"}, "legend": null},
"stroke": {"field": "v", "type": "quantitative", "scale": {"domain": [-1, 0, 1], "range": ["#14605f", "#fcefda", "#a3322c"], "interpolate": "rgb"}, "legend": null},
"detail": {"field": "q", "type": "nominal"},
"order": {"field": "o", "type": "quantitative"}
}
},
{
"data": {"name": "outlines"},
"transform": [{"flatten": ["xs", "ys", "os"], "as": ["x", "y", "o"]}],
"mark": {"type": "line", "stroke": "#9c9c9c", "strokeWidth": 1.3},
"encoding": {
"x": {"field": "x", "type": "quantitative", "scale": {"domain": [-2.453, 2.465], "nice": false, "zero": false}, "axis": null},
"y": {"field": "y", "type": "quantitative", "scale": {"domain": [-1.07, 1.13], "nice": false, "zero": false}, "axis": null},
"detail": {"field": "g", "type": "nominal"},
"order": {"field": "o", "type": "quantitative"}
}
},
{
"data": {"values": [{"t": "(b)", "x": 0, "y": 0.74, "s": 26}, {"t": "θ=30°", "x": -0.05, "y": -0.75, "s": 23}]},
"mark": {"type": "text", "align": "center", "baseline": "middle", "color": "black"},
"encoding": {
"x": {"field": "x", "type": "quantitative", "scale": {"domain": [-2.453, 2.465], "nice": false, "zero": false}, "axis": null},
"y": {"field": "y", "type": "quantitative", "scale": {"domain": [-1.07, 1.13], "nice": false, "zero": false}, "axis": null},
"text": {"field": "t"},
"size": {"field": "s", "type": "quantitative", "scale": null, "legend": null}
}
},
{
"data": {"values": [{"x": -2.3, "x2": 2.465, "y": -1.07, "y2": 1.13}]},
"mark": {"type": "rect", "fill": null, "stroke": "black", "strokeWidth": 2},
"encoding": {
"x": {"field": "x", "type": "quantitative", "scale": {"domain": [-2.453, 2.465], "nice": false, "zero": false}, "axis": null},
"x2": {"field": "x2"},
"y": {"field": "y", "type": "quantitative", "scale": {"domain": [-1.07, 1.13], "nice": false, "zero": false}, "axis": null},
"y2": {"field": "y2"}
}
}
]
}
]
}
